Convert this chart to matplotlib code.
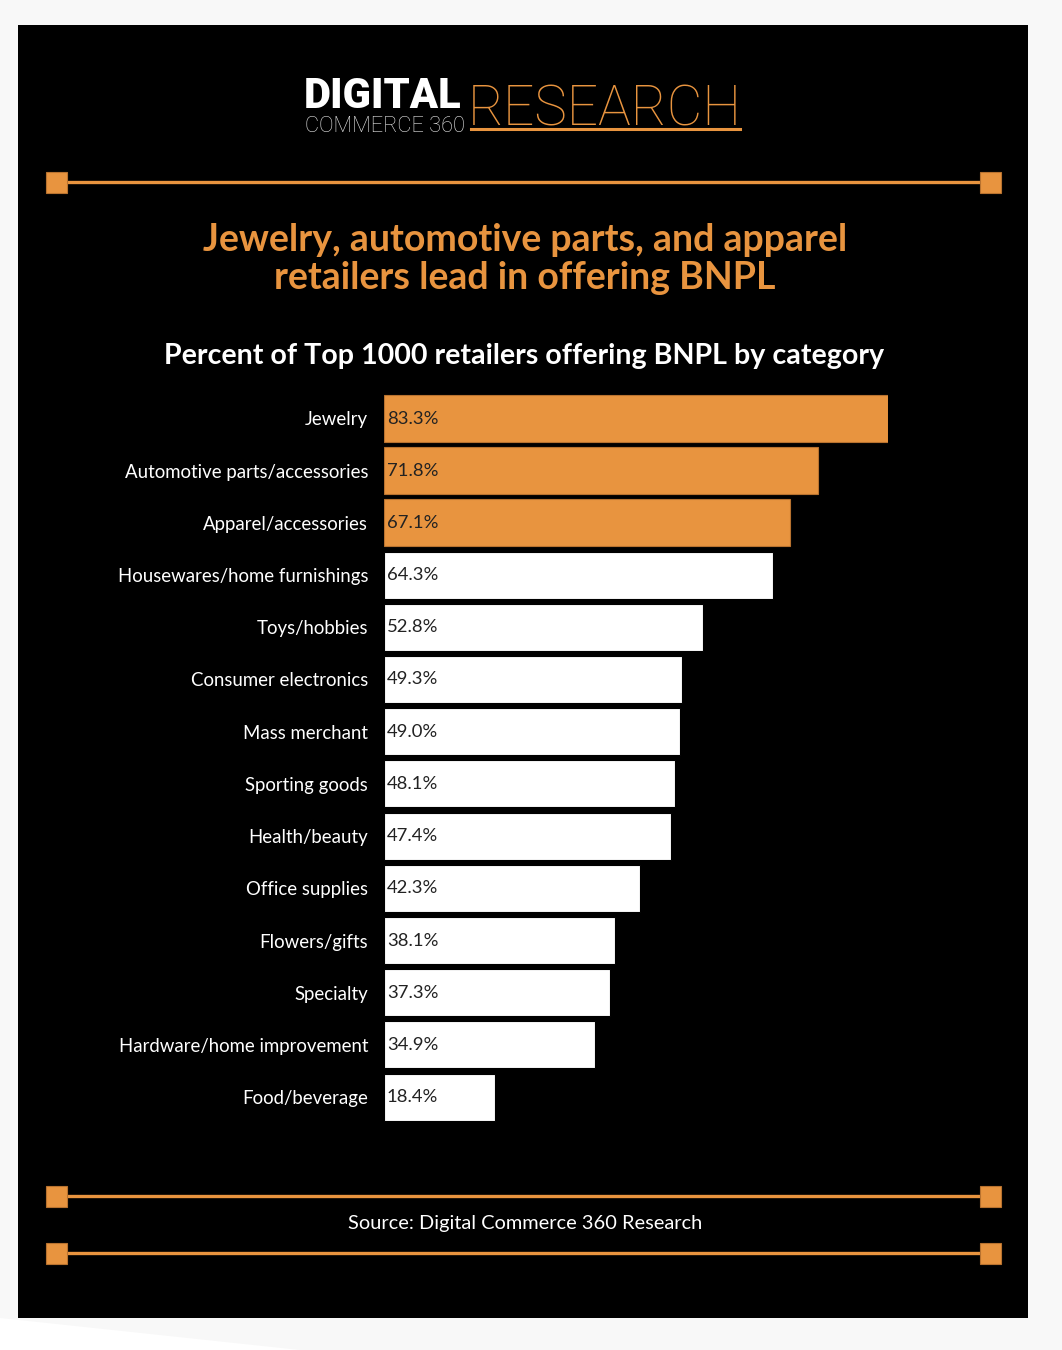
import matplotlib
matplotlib.use("Agg")
import matplotlib.pyplot as plt
from matplotlib.patches import Rectangle, Polygon
from matplotlib.lines import Line2D

categories = ["Jewelry", "Automotive parts/accessories", "Apparel/accessories",
              "Housewares/home furnishings", "Toys/hobbies", "Consumer electronics",
              "Mass merchant", "Sporting goods", "Health/beauty", "Office supplies",
              "Flowers/gifts", "Specialty", "Hardware/home improvement", "Food/beverage"]
values = [83.3, 71.8, 67.1, 64.3, 52.8, 49.3, 49.0, 48.1, 47.4, 42.3, 38.1, 37.3, 34.9, 18.4]
highlighted = [True, True, True] + [False] * 11

ORANGE = "#E8943F"
W, H = 1062, 1350
FONT = ["Lato", "DejaVu Sans"]

fig = plt.figure(figsize=(W / 100, H / 100), dpi=100, facecolor="#F8F8F8")

def fx(x):
    return x / W

def fy(y):
    return 1 - y / H

# background panel
fig.patches.append(Polygon([(fx(0), fy(1318)), (fx(300), fy(1350)), (fx(0), fy(1350))],
                           closed=True, transform=fig.transFigure, facecolor="white",
                           edgecolor="none", zorder=-3))
fig.patches.append(Rectangle((fx(18), fy(1318)), fx(1028) - fx(18), fy(25) - fy(1318),
                             transform=fig.transFigure, facecolor="black",
                             edgecolor="none", zorder=-2))

# decorative lines with squares
def deco(y):
    fig.lines.append(Line2D([fx(56), fx(990)], [fy(y), fy(y)], transform=fig.transFigure,
                            color=ORANGE, lw=2.4, zorder=1))
    for cx in (56, 990):
        fig.patches.append(Rectangle((fx(cx - 10.5), fy(y + 10.5)), 21 / W, 21 / H,
                                     transform=fig.transFigure, facecolor=ORANGE,
                                     edgecolor="#B8722F", lw=0.8, zorder=2))

deco(182)
deco(1196)
deco(1253)

# logo
fig.text(fx(304), fy(108), "DIGITAL", color="white", fontsize=30, fontweight="heavy",
         family=["Roboto", "DejaVu Sans"], ha="left", va="baseline")
fig.text(fx(305), fy(132), "COMMERCE 360", color="#E8E8E8", fontsize=15.7,
         family=["Roboto", "DejaVu Sans"], fontweight="light", ha="left", va="baseline")
fig.text(fx(468), fy(125), "RESEARCH", color=ORANGE, fontsize=39.5, fontweight="ultralight",
         family=["Roboto", "DejaVu Sans"], ha="left", va="baseline")
fig.lines.append(Line2D([fx(471), fx(740)], [fy(128.5), fy(128.5)], transform=fig.transFigure,
                        color=ORANGE, lw=2.2))

# title
fig.text(0.494, fy(259), "Jewelry, automotive parts, and apparel\nretailers lead in offering BNPL",
         color=ORANGE, fontsize=27, fontweight="bold", family=FONT, ha="center", va="center",
         linespacing=1.13)
fig.text(0.493, fy(356), "Percent of Top 1000 retailers offering BNPL by category",
         color="white", fontsize=20.6, fontweight="bold", family=FONT, ha="center", va="center")
fig.text(0.494, fy(1223), "Source: Digital Commerce 360 Research", color="white",
         fontsize=14.4, family=FONT, ha="center", va="center")

# chart
row0, step = 418.5, 52.2
top_px = row0 - step / 2
bot_px = row0 + step * (len(categories) - 0.5)
ax = fig.add_axes([fx(384), fy(bot_px), fx(888) - fx(384), fy(top_px) - fy(bot_px)])
ax.set_zorder(3)
ax.set_facecolor("none")
ypos = list(range(len(categories)))
colors = [ORANGE if h else "white" for h in highlighted]
edges = ["#B8722F" if h else "black" for h in highlighted]
ax.barh(ypos, values, height=0.9, color=colors, edgecolor=edges, linewidth=0.8)
ax.set_xlim(0, values[0])
ax.set_ylim(len(categories) - 0.5, -0.5)
for i, v in enumerate(values):
    ax.text(0.5, i, f"{v:.1f}%", color="#222222", fontsize=13.3, family=FONT,
            ha="left", va="center")
ax.set_yticks(ypos)
ax.set_yticklabels(categories, color="white", fontsize=13.4, family=FONT)
ax.tick_params(axis="y", length=0, pad=11.5)
ax.set_xticks([])
for s in ax.spines.values():
    s.set_visible(False)

fig.savefig("out.png", dpi=100, facecolor=fig.get_facecolor())
